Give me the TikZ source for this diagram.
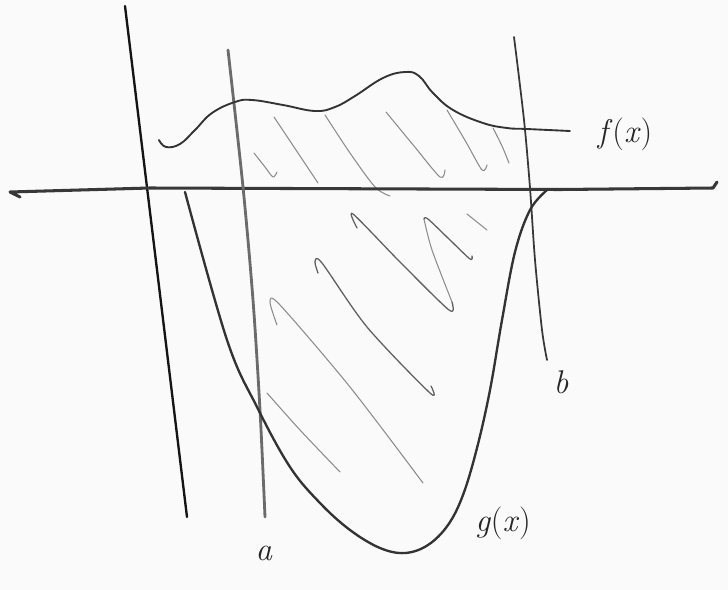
\documentclass[tikz,border=0pt]{standalone}
\usepackage{fontspec}
\begin{document}
\begin{tikzpicture}[x=0.03cm,y=-0.03cm, line cap=round, line join=round,
  ink/.style={draw=black!80, line width=1.6pt},
  hatch/.style={draw=black!45, line width=0.9pt},
  hatchdark/.style={draw=black!62, line width=1.1pt},
  lbl/.style={font=\fontsize{28}{32}\selectfont, text=black!85, inner sep=0pt, anchor=base}]
\fill[black!2] (0,0) rectangle (728,590);
\useasboundingbox (0,0) rectangle (728,590);

% hatching (drawn first, under the curves)
\draw[hatch] plot[smooth] coordinates {(254,153) (265,167) (273,177) (277,172)};
\draw[hatch] plot[smooth] coordinates {(274,117) (296,150) (318,183)};
\draw[hatch] plot[smooth] coordinates {(325,115) (350,153) (375,187) (390,196)};
\draw[hatch] plot[smooth] coordinates {(386,112) (414,146) (440,177) (445,170)};
\draw[hatch] plot[smooth] coordinates {(447,110) (466,142) (482,170) (487,165)};
\draw[hatch] plot[smooth] coordinates {(493,128) (502,146) (509,163)};
\draw[hatchdark] plot[smooth, tension=0.5] coordinates {(357,228) (353,214) (400,262) (449,310) (452,302)};
\draw[hatch] plot[smooth, tension=0.5] coordinates {(452,302) (432,250) (424,219)};
\draw[hatchdark] plot[smooth, tension=0.5] coordinates {(424,219) (428,219) (450,240) (470,259) (472,256)};
\draw[hatch] (467,214) -- (487,230);
\draw[hatchdark] plot[smooth, tension=0.5] coordinates {(318,273) (315,262) (322,263) (367,327) (430,393) (431,386)};
\draw[hatch] plot[smooth, tension=0.5] coordinates {(277,325) (270,302) (280,305) (350,387) (423,483)};
\draw[hatch] plot[smooth] coordinates {(267,393) (300,430) (340,472)};

% left vertical line
\draw[black!92, line width=2pt] (125,6) -- (187,517);

% x axis
\draw[black!78, line width=2.6pt] (20,197) -- (10,192) -- (150,188) -- (560,189.5) -- (713,188) -- (717,182);

% line a
\draw[black!58, line width=2.4pt] plot[smooth] coordinates {(228,50) (243,187) (253,300) (260,410) (265,517)};

% line b
\draw[black!78, line width=1.5pt] plot[smooth] coordinates {(514,37) (524,120) (530,188) (535,260) (542,330) (547,360)};

% f(x)
\draw[ink] plot[smooth, tension=0.7] coordinates {(159,140) (166,147) (180,144) (195,130) (212,113) (235,102) (252,100) (283,105) (315,111) (335,107) (355,96) (383,78) (405,72) (419,76) (433,93) (453,110) (483,123) (507,128) (527,129) (570,131)};

% g(x)
\draw[ink, line width=2pt] plot[smooth, tension=0.6] coordinates {(185,192) (227,340) (257,407) (290,467) (320,503) (350,530) (380,548) (405,553) (428,545) (448,525) (463,495) (477,448) (490,390) (502,320) (515,252) (530,210) (547,190)};

% labels
\node[lbl] (fl) at (625,142) {\textit{f}(\textit{x})};
\node[lbl] (gl) at (503,531) {\textit{g}(\textit{x})};
\node[lbl] (al) at (264,560) {\textit{a}};
\node[lbl] (bl) at (561,393) {\textit{b}};
\end{tikzpicture}
\end{document}
